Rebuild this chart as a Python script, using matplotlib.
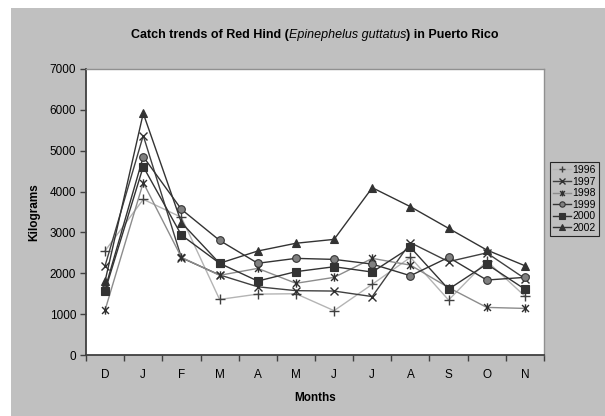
'''
catch trends of red hind
'''

import numpy as np
import matplotlib
matplotlib.use('Agg')
import matplotlib.pyplot as plt
from matplotlib.path import Path
from matplotlib.patches import Rectangle

plt.rcParams['font.family'] = ['Liberation Sans', 'DejaVu Sans']

# data (kg)
months = ['D', 'J', 'F', 'M', 'A', 'M', 'J', 'J', 'A', 'S', 'O', 'N']
y1996 = [2550, 3810, 3370, 1360, 1490, 1500, 1085, 1730, 2390, 1345, 2300, 1440]
y1997 = [2185, 5370, 2380, 1960, 1670, 1575, 1565, 1430, 2750, 2285, 2500, 1870]
y1998 = [1100, 4220, 2390, 1950, 2120, 1755, 1900, 2365, 2200, 1650, 1165, 1140]
y1999 = [1620, 4855, 3565, 2805, 2245, 2365, 2340, 2225, 1940, 2390, 1835, 1900]
y2000 = [1575, 4610, 2935, 2245, 1810, 2040, 2160, 2030, 2635, 1610, 2225, 1610]
y2002 = [1810, 5915, 3240, 2245, 2545, 2735, 2830, 4095, 3630, 3100, 2570, 2185]

W, H = 605, 416
fig = plt.figure(figsize=(W/100, H/100), dpi=100)
fig.patch.set_facecolor('white')
fig.patches.append(Rectangle((11/W, 0), 1 - 11/W, 1 - 8/H, transform=fig.transFigure,
                             facecolor='#c0c0c0', edgecolor='none', zorder=-5))

ax = fig.add_axes([86/W, (H-355)/H, (544-86)/W, (355-69)/H])
ax.set_facecolor('white')
ax.set_zorder(2)

x = np.arange(len(months))

# excel style star: x with a vertical bar
star = Path([(-1, -1), (1, 1), (-1, 1), (1, -1), (0, -1.2), (0, 1.2)],
            [Path.MOVETO, Path.LINETO, Path.MOVETO, Path.LINETO, Path.MOVETO, Path.LINETO])

ax.plot(x, y1996, color='#b4b4b4', lw=1.0, marker='+', ms=7, mew=1.0,
        mec='#404040', label='1996')
ax.plot(x, y1997, color='#404040', lw=1.0, marker='x', ms=6, mew=1.0,
        mec='#303030', label='1997')
ax.plot(x, y1998, color='#8c8c8c', lw=1.0, marker=star, ms=6, mew=1.0,
        mec='#303030', mfc='none', label='1998')
ax.plot(x, y1999, color='#333333', lw=1.0, marker='o', ms=5.5, mew=0.8,
        mfc='#808080', mec='#333333', label='1999')
ax.plot(x, y2000, color='#333333', lw=1.0, marker='s', ms=5.5, mew=0.8,
        mfc='#333333', mec='#333333', label='2000')
ax.plot(x, y2002, color='#333333', lw=1.0, marker='^', ms=6, mew=0.8,
        mfc='#333333', mec='#333333', label='2002')

ax.set_xlim(-0.5, len(months) - 0.5)
ax.set_ylim(0, 7000)
ax.set_yticks(np.arange(0, 7001, 1000))
ax.set_xticks(np.arange(-0.5, len(months), 1.0))
ax.set_xticklabels([])
ax.set_xticks(x, minor=True)
ax.set_xticklabels(months, minor=True)
ax.tick_params(axis='x', which='major', direction='out', length=4, width=1, color='#404040')
ax.tick_params(axis='x', which='minor', length=0, pad=10, labelsize=8.5)
ax.tick_params(axis='y', direction='out', length=4, width=1, color='#404040', labelsize=8.5, pad=3)

for s in ['left', 'bottom']:
    ax.spines[s].set_color('#404040')
    ax.spines[s].set_linewidth(1.3)
for s in ['top', 'right']:
    ax.spines[s].set_color('#909090')
    ax.spines[s].set_linewidth(1.0)

ax.set_xlabel('Months', fontsize=8.5, fontweight='bold', labelpad=8)
ax.set_ylabel('Kilograms', fontsize=8.5, fontweight='bold', labelpad=7)

leg = fig.legend(loc='upper left', bbox_to_anchor=(550/W, 1 - 162/H), borderaxespad=0,
                 fontsize=7.5, frameon=True, fancybox=False, handlelength=1.7,
                 handletextpad=0.15, labelspacing=0.15, borderpad=0.3, markerscale=0.7)
leg.get_frame().set_facecolor('#c0c0c0')
leg.get_frame().set_edgecolor('black')
leg.get_frame().set_linewidth(0.8)

# title in three pieces (italic species name)
parts = [('Catch trends of Red Hind (', 'bold', 'normal'),
         ('Epinephelus guttatus', 'normal', 'italic'),
         (') in Puerto Rico', 'bold', 'normal')]
ty = 1 - 35/H
texts = [fig.text(0, ty, p, fontsize=9, fontweight=w, fontstyle=st, va='center')
         for p, w, st in parts]
fig.canvas.draw()
r = fig.canvas.get_renderer()
widths = [t.get_window_extent(r).width for t in texts]
xs = 315 - sum(widths) / 2
for t, wd in zip(texts, widths):
    t.set_x(xs / W)
    xs += wd

fig.savefig('out.png', dpi=100)
